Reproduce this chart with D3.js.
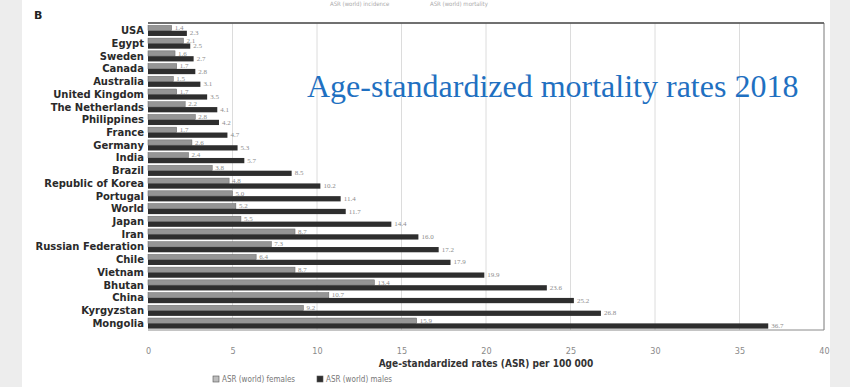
<!DOCTYPE html>
<html>
<head>
<meta charset="utf-8">
<script src="https://cdn.jsdelivr.net/npm/d3@7"></script>
<style>
  body { margin: 0; background: #ededed; }
  svg { display: block; }
</style>
</head>
<body>
<div id="chart"></div>
<script>
// data
const countries = ['USA', 'Egypt', 'Sweden', 'Canada', 'Australia', 'United Kingdom', 'The Netherlands',
    'Philippines', 'France', 'Germany', 'India', 'Brazil', 'Republic of Korea', 'Portugal', 'World',
    'Japan', 'Iran', 'Russian Federation', 'Chile', 'Vietnam', 'Bhutan', 'China', 'Kyrgyzstan', 'Mongolia'];
const females = [1.4, 2.1, 1.6, 1.7, 1.5, 1.7, 2.2, 2.8, 1.7, 2.6, 2.4, 3.8, 4.8, 5.0, 5.2,
    5.5, 8.7, 7.3, 6.4, 8.7, 13.4, 10.7, 9.2, 15.9];
const males = [2.3, 2.5, 2.7, 2.8, 3.1, 3.5, 4.1, 4.2, 4.7, 5.3, 5.7, 8.5, 10.2, 11.4, 11.7,
    14.4, 16.0, 17.2, 17.9, 19.9, 23.6, 25.2, 26.8, 36.7];
const xTicks = [0, 5, 10, 15, 20, 25, 30, 35, 40];
const seriesNames = ['ASR (world) females', 'ASR (world) males'];

const width = 850, height = 387;
const margin = { left: 148, right: 24, top: 23, bottom: 57 };
const colors = { females: '#959595', males: '#2e2e2e' };

const svg = d3.select('#chart').append('svg')
    .attr('width', width)
    .attr('height', height);

// white panel between grey side strips
svg.append('rect')
    .attr('x', 22).attr('y', 0)
    .attr('width', 808).attr('height', height)
    .attr('fill', '#ffffff');

const x = d3.scaleLinear().domain([0, 40]).range([margin.left, width - margin.right - 2]);
const y = d3.scaleBand().domain(countries).range([margin.top + 1, height - margin.bottom]).paddingInner(0.15).paddingOuter(0.1);
const sub = d3.scaleBand().domain(['females', 'males']).range([0, y.bandwidth()]).padding(0.02);

// legend of the upper panel, mostly cut off in the source
svg.append('g')
    .selectAll('text')
    .data(['ASR (world) incidence', 'ASR (world) mortality'])
    .join('text')
    .attr('x', (d, i) => 330 + i * 100)
    .attr('y', 6)
    .attr('font-family', 'DejaVu Sans Condensed, sans-serif')
    .attr('font-size', 6)
    .attr('fill', '#aaa')
    .text(d => d);

svg.append('text')
    .attr('x', 34).attr('y', 19)
    .attr('font-family', 'DejaVu Sans, sans-serif')
    .attr('font-weight', 'bold')
    .attr('font-size', 11)
    .attr('fill', '#222')
    .text('B');

// gridlines
svg.append('g')
    .selectAll('line')
    .data(xTicks.slice(1))
    .join('line')
    .attr('x1', d => x(d)).attr('x2', d => x(d))
    .attr('y1', margin.top).attr('y2', height - margin.bottom)
    .attr('stroke', '#dcdcdc')
    .attr('stroke-width', 1);

// plot frame
svg.append('path')
    .attr('d', `M${x(0)},${margin.top}H${x(40)}V${height - margin.bottom}H${x(0)}`)
    .attr('fill', 'none')
    .attr('stroke', '#8a8a8a')
    .attr('stroke-width', 1);
svg.append('line')
    .attr('x1', x(0)).attr('x2', x(40))
    .attr('y1', margin.top).attr('y2', margin.top)
    .attr('stroke', '#555').attr('stroke-width', 1.5);

const rows = svg.append('g')
    .selectAll('g')
    .data(countries.map((c, i) => ({ country: c, females: females[i], males: males[i] })))
    .join('g')
    .attr('transform', d => `translate(0, ${y(d.country)})`);

['females', 'males'].forEach(key => {
    rows.append('rect')
        .attr('x', x(0))
        .attr('y', sub(key))
        .attr('width', d => x(d[key]) - x(0))
        .attr('height', sub.bandwidth())
        .attr('fill', colors[key])
        .attr('stroke', key === 'females' ? '#666' : 'none')
        .attr('stroke-width', 0.5);

    rows.append('text')
        .attr('x', d => x(d[key]) + 3)
        .attr('y', sub(key) + sub.bandwidth() - 0.5)
        .attr('font-family', 'Liberation Serif, serif')
        .attr('font-size', 7)
        .attr('fill', '#8c8c8c')
        .text(d => d[key].toFixed(1));
});

// category labels
rows.append('text')
    .attr('x', x(0) - 4)
    .attr('y', y.bandwidth() / 2)
    .attr('dy', '0.35em')
    .attr('text-anchor', 'end')
    .attr('font-family', 'DejaVu Sans, sans-serif')
    .attr('font-weight', 'bold')
    .attr('font-size', 10)
    .attr('fill', '#2a2a2a')
    .text(d => d.country);

// x axis
const xAxis = svg.append('g')
    .attr('transform', `translate(0, ${height - margin.bottom})`)
    .call(d3.axisBottom(x).tickValues(xTicks).tickSize(0).tickPadding(18));
xAxis.select('.domain').remove();
xAxis.selectAll('text')
    .attr('font-family', 'DejaVu Sans Condensed, sans-serif')
    .attr('font-size', 9)
    .attr('fill', '#8a8a8a');

svg.append('text')
    .attr('x', x(20))
    .attr('y', 367)
    .attr('text-anchor', 'middle')
    .attr('font-family', 'DejaVu Sans Condensed, sans-serif')
    .attr('font-weight', 'bold')
    .attr('font-size', 10)
    .attr('fill', '#333')
    .text('Age-standardized rates (ASR) per 100 000');

const legend = svg.append('g')
    .selectAll('g')
    .data(seriesNames)
    .join('g')
    .attr('transform', (d, i) => `translate(${213 + i * 104}, 376)`);
legend.append('rect')
    .attr('width', 6).attr('height', 6)
    .attr('fill', (d, i) => i ? colors.males : '#bdbdbd')
    .attr('stroke', '#555').attr('stroke-width', 0.6);
legend.append('text')
    .attr('x', 9).attr('y', 6)
    .attr('font-family', 'DejaVu Sans Condensed, sans-serif')
    .attr('font-size', 8)
    .attr('fill', '#777')
    .text(d => d);

// overlaid title
svg.append('text')
    .attr('x', 307)
    .attr('y', 97)
    .attr('font-family', 'Liberation Serif, Times New Roman, serif')
    .attr('font-size', 32)
    .attr('fill', '#1f70c1')
    .text('Age-standardized mortality rates 2018');
</script>
</body>
</html>
